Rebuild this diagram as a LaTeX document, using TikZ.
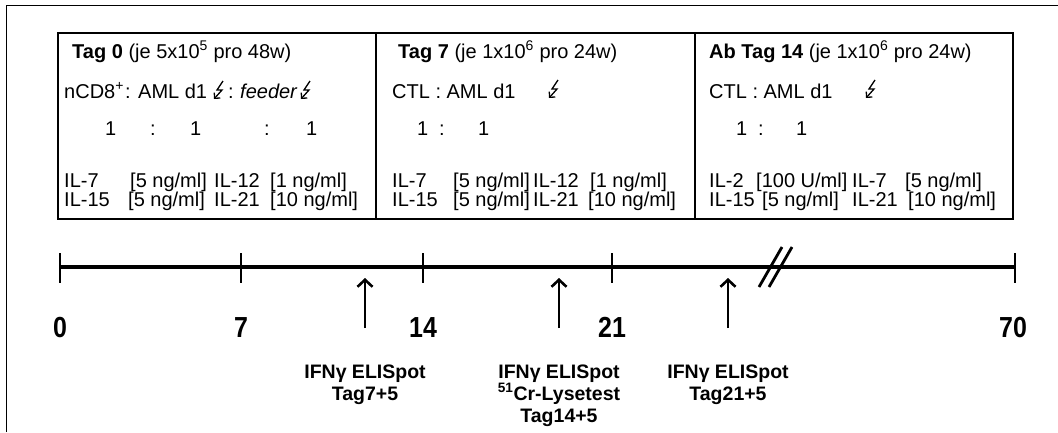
\documentclass[tikz,border=0pt]{standalone}
\usepackage{fontspec}
\setmainfont{Liberation Sans}
\newfontfamily\numfont[FakeStretch=0.86]{Liberation Sans}
\usetikzlibrary{arrows.meta}

\tikzset{
  txt/.style={anchor=base west, inner sep=0pt, font=\fontsize{20}{20}\selectfont},
  num/.style={anchor=base, inner sep=0pt, font=\numfont\bfseries\fontsize{29}{29}\selectfont},
  lab/.style={anchor=base, inner sep=0pt, font=\bfseries\fontsize{19.5}{19.5}\selectfont},
  frame/.style={line width=1pt},
  panel/.style={line width=2pt},
  axis/.style={line width=3.5pt},
  tick/.style={line width=2.8pt},
  marker/.style={line width=2.8pt, -{Straight Barb[length=7pt,width=15pt,line width=2.6pt]}},
  breakmark/.style={line width=2.8pt},
  bolt/.pic={\draw[line width=1.3pt, line join=miter, -{Straight Barb[length=4pt,width=8pt]}]
     (5,-9) -- (-1,0) -- (4,0) -- (-4,9);}
}

\begin{document}
\begin{tikzpicture}[x=1pt,y=-1pt]
\useasboundingbox (0,0) rectangle (1058,432);

% outer frame
\draw[frame] (6,432) -- (6,5) -- (1058,5);

% protocol panels
\draw[panel] (58,33) rectangle (1013,219);
\draw[panel] (376,33) -- (376,219);
\draw[panel] (695,33) -- (695,219);

% --- panel 1: day 0
\node[txt] (h1) at (72,58) {\textbf{Tag 0} (je 5x10\textsuperscript{5} pro 48w)};
\node[txt] (c1) at (64,98) {nCD8\textsuperscript{+}};
\node[txt] (c1a) at (125,98) {: AML d1};
\pic at (218,90) {bolt};
\node[txt] (c1b) at (228,98) {:};
\node[txt] (c1c) at (240,98) {\textit{feeder}};
\pic at (305,90) {bolt};
\node[txt] (r1a) at (105,135) {1};
\node[txt] (r1b) at (150,135) {:};
\node[txt] (r1c) at (190,135) {1};
\node[txt] (r1d) at (264,135) {:};
\node[txt] (r1e) at (306,135) {1};
\node[txt] (p1a) at (64,187) {IL-7};
\node[txt] (p1b) at (130,187) {[5 ng/ml]};
\node[txt] (p1c) at (214,187) {IL-12};
\node[txt] (p1d) at (270,187) {[1 ng/ml]};
\node[txt] (q1a) at (64,206) {IL-15};
\node[txt] (q1b) at (128,206) {[5 ng/ml]};
\node[txt] (q1c) at (214,206) {IL-21};
\node[txt] (q1d) at (270,206) {[10 ng/ml]};

% --- panel 2: day 7
\node[txt] (h2) at (398,58) {\textbf{Tag 7} (je 1x10\textsuperscript{6} pro 24w)};
\node[txt] (c2) at (392,98) {CTL : AML d1};
\pic at (553,89) {bolt};
\node[txt] (r2a) at (417,135) {1};
\node[txt] (r2b) at (439,135) {:};
\node[txt] (r2c) at (478,135) {1};
\node[txt] (p2a) at (392,187) {IL-7};
\node[txt] (p2b) at (453,187) {[5 ng/ml]};
\node[txt] (p2c) at (533,187) {IL-12};
\node[txt] (p2d) at (590,187) {[1 ng/ml]};
\node[txt] (q2a) at (392,206) {IL-15};
\node[txt] (q2b) at (453,206) {[5 ng/ml]};
\node[txt] (q2c) at (533,206) {IL-21};
\node[txt] (q2d) at (588,206) {[10 ng/ml]};

% --- panel 3: from day 14
\node[txt] (h3) at (709,58) {\textbf{Ab Tag 14} (je 1x10\textsuperscript{6} pro 24w)};
\node[txt] (c3) at (709,98) {CTL : AML d1};
\pic at (870,89) {bolt};
\node[txt] (r3a) at (736,135) {1};
\node[txt] (r3b) at (758,135) {:};
\node[txt] (r3c) at (796,135) {1};
\node[txt] (p3a) at (709,187) {IL-2};
\node[txt] (p3b) at (756,187) {[100 U/ml]};
\node[txt] (p3c) at (852,187) {IL-7};
\node[txt] (p3d) at (905,187) {[5 ng/ml]};
\node[txt] (q3a) at (709,206) {IL-15};
\node[txt] (q3b) at (762,206) {[5 ng/ml]};
\node[txt] (q3c) at (852,206) {IL-21};
\node[txt] (q3d) at (908,206) {[10 ng/ml]};

% --- time axis
\coordinate (t0) at (60,267);
\coordinate (t7) at (241,267);
\coordinate (t14) at (423,267);
\coordinate (t21) at (612,267);
\coordinate (t70) at (1015,267);
\draw[axis] (t0) -- (t70);
\foreach \t in {t0,t7,t14,t21,t70}
  \draw[tick] ([yshift=14pt]\t) -- ([yshift=-16pt]\t);

% axis break
\coordinate (k1a) at (759,287); \coordinate (k1b) at (782,247);
\coordinate (k2a) at (769,287); \coordinate (k2b) at (792,247);
\draw[breakmark] (k1a) -- (k1b);
\draw[breakmark] (k2a) -- (k2b);

% day labels
\node[num] (n0) at (60,337) {0};
\node[num] (n7) at (241,337) {7};
\node[num] (n14) at (423,337) {14};
\node[num] (n21) at (612,337) {21};
\node[num] (n70) at (1013,337) {70};

% readout markers
\coordinate (m1b) at (365,328); \coordinate (m1t) at (365,278);
\coordinate (m2b) at (559,328); \coordinate (m2t) at (559,278);
\coordinate (m3b) at (728,328); \coordinate (m3t) at (728,278);
\draw[marker] (m1b) -- (m1t);
\draw[marker] (m2b) -- (m2t);
\draw[marker] (m3b) -- (m3t);

\node[lab] (l1a) at (365,378) {IFNγ ELISpot};
\node[lab] (l1b) at (365,400) {Tag7+5};
\node[lab] (l2a) at (559,378) {IFNγ ELISpot};
\node[lab] (l2b) at (559,400) {\textsuperscript{51}Cr-Lysetest};
\node[lab] (l2c) at (559,422) {Tag14+5};
\node[lab] (l3a) at (728,378) {IFNγ ELISpot};
\node[lab] (l3b) at (728,400) {Tag21+5};
\end{tikzpicture}
\end{document}
